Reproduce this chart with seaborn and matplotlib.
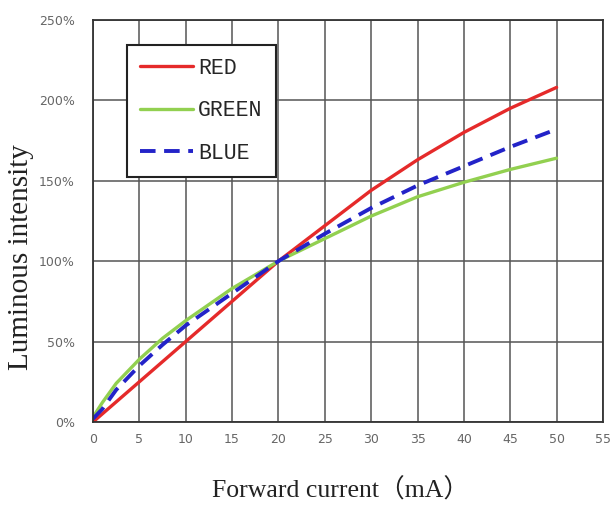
import matplotlib
matplotlib.use("Agg")
import matplotlib.pyplot as plt
import seaborn as sns
import pandas as pd
from matplotlib.ticker import FuncFormatter

# values (percent of intensity at 20 mA)
current = [0, 1, 2.5, 5, 7.5, 10, 15, 20, 25, 30, 35, 40, 45, 50]
red = [0, 5, 12.5, 25, 37.5, 50, 75, 100, 122, 144, 163, 180, 195, 208]
green = [3, 12, 24, 39, 52, 63, 83, 100, 114, 128, 140, 149, 157, 164]
blue = [2, 8, 20, 35, 48, 60, 80, 100, 117, 133, 147, 159, 171, 182]

x_ticks = list(range(0, 60, 5))
y_ticks = list(range(0, 300, 50))

df = pd.DataFrame({"current": current, "RED": red, "GREEN": green, "BLUE": blue})

sns.set_style("white")

fig = plt.figure(figsize=(6.14, 5.09), dpi=100)
ax = fig.add_axes([0.1515, 0.171, 0.8305, 0.79])

sns.lineplot(data=df, x="current", y="RED", ax=ax, color="#e52a2a",
             linewidth=2.4, label="RED")
sns.lineplot(data=df, x="current", y="GREEN", ax=ax, color="#92d050",
             linewidth=2.4, label="GREEN")
sns.lineplot(data=df, x="current", y="BLUE", ax=ax, color="#2323c8",
             linewidth=2.8, label="BLUE")
ax.lines[2].set_dashes((4, 2.2))

ax.set_xlim(0, 55)
ax.set_ylim(0, 250)
ax.set_xticks(x_ticks)
ax.set_yticks(y_ticks)
ax.yaxis.set_major_formatter(FuncFormatter(lambda v, p: f"{int(v)}%"))
ax.grid(True, color="#555555", linewidth=1.1)
ax.set_axisbelow(True)
for s in ax.spines.values():
    s.set_color("#333333")
    s.set_linewidth(1.3)

ax.tick_params(axis="both", length=0, labelsize=9, labelcolor="#666666")
ax.tick_params(axis="y", pad=13)
ax.tick_params(axis="x", pad=8)

ax.set_xlabel("Forward current（mA）", fontsize=18.5,
              family=["Liberation Serif", "Noto Sans CJK SC"], color="#222222")
ax.xaxis.set_label_coords(0.485, -0.170)
ax.xaxis.label.set_va("center")
ax.set_ylabel("Luminous intensity", fontsize=21, family="Liberation Serif",
              color="#222222")
ax.yaxis.set_label_coords(-0.141, 0.41)
ax.yaxis.label.set_va("center")

leg = ax.legend(loc="upper left", bbox_to_anchor=(0.067, 0.938),
                borderaxespad=0, fancybox=False, framealpha=1,
                handlelength=2.45, handletextpad=0.25, labelspacing=1.0,
                borderpad=0.6, prop={"family": "Liberation Mono", "size": 15.5})
leg.get_frame().set_edgecolor("#222222")
leg.get_frame().set_linewidth(1.5)

fig.savefig("out.png", dpi=100)
